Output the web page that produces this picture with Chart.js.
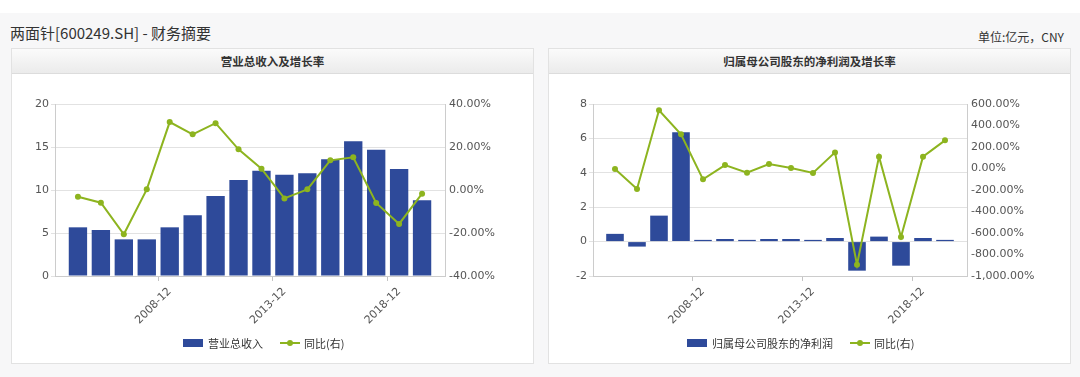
<!DOCTYPE html>
<html>
<head>
<meta charset="utf-8">
<script src="https://cdn.jsdelivr.net/npm/chart.js@4.4.1/dist/chart.umd.min.js"></script>
<style>
  body { margin: 0; width: 1080px; height: 377px; background: #f7f7f8; position: relative; overflow: hidden;
         font-family: "Noto Sans CJK SC", "Noto Sans", sans-serif; color: #333; }
  .topband { position: absolute; left: 0; top: 0; width: 1080px; height: 13px; background: #fff; }
  .title { position: absolute; left: 10px; top: 22px; font-size: 15px; line-height: 22px; }
  .unit { position: absolute; right: 16px; top: 28px; font-size: 12px; line-height: 18px; }
  .panel { position: absolute; top: 48px; width: 521px; height: 314px; background: #fff; border: 1px solid #e2e2e2; }
  .hd { height: 24px; line-height: 24px; border-bottom: 1px solid #dcdcdc; text-align: center;
        font-size: 11.5px; font-weight: bold; background: linear-gradient(#fbfbfb, #ebebeb); }
  canvas { display: block; }
  .legend { position: absolute; top: 286px; height: 16px; display: flex; align-items: center; font-size: 11px; white-space: nowrap; }
  .box { width: 20px; height: 8px; background: #2e4a9a; margin-right: 5px; }
  .ln { width: 20px; height: 2px; background: #8db41f; position: relative; margin: 0 4px 0 17px; }
  .ln::after { content: ''; position: absolute; left: 7px; top: -2px; width: 6px; height: 6px; border-radius: 50%; background: #8db41f; }
</style>
</head>
<body>
<div class="topband"></div>
<div class="title">两面针[600249.SH] - 财务摘要</div>
<div class="unit">单位:亿元，CNY</div>

<div class="panel" style="left:11px">
  <div class="hd">营业总收入及增长率</div>
  <canvas id="revChart" width="521" height="289"></canvas>
  <div class="legend" style="left:171px"><span class="box"></span>营业总收入<span class="ln"></span>同比(右)</div>
</div>
<div class="panel" style="left:548px">
  <div class="hd">归属母公司股东的净利润及增长率</div>
  <canvas id="profitChart" width="521" height="289"></canvas>
  <div class="legend" style="left:138px"><span class="box"></span>归属母公司股东的净利润<span class="ln"></span>同比(右)</div>
</div>

<script>
  // categories (2004-12 .. 2019-12), only every 5th year gets a label
  const years = ['2004-12', '2005-12', '2006-12', '2007-12', '2008-12', '2009-12', '2010-12', '2011-12',
                 '2012-12', '2013-12', '2014-12', '2015-12', '2016-12', '2017-12', '2018-12', '2019-12'];
  const tickYears = ['2008-12', '2013-12', '2018-12'];

  // 营业总收入 (亿元) and 同比 (%)
  const revenue = [5.66, 5.35, 4.26, 4.26, 5.66, 7.05, 9.30, 11.16, 12.25, 11.78, 11.94, 13.57, 15.66, 14.69, 12.44, 8.80];
  const revenueYoY = [-3.1, -5.9, -20.6, 0.3, 31.6, 25.9, 31.1, 18.9, 9.9, -3.9, 0.3, 13.8, 15.2, -6.0, -15.8, -1.7];

  // 归属母公司股东的净利润 (亿元) and 同比 (%)
  const netProfit = [0.45, -0.29, 1.51, 6.36, 0.10, 0.15, 0.10, 0.15, 0.15, 0.10, 0.21, -1.69, 0.29, -1.40, 0.21, 0.10];
  const netProfitYoY = [-5, -191, 541, 318, -101, 32, -39, 42, 5, -42, 150, -895, 110, -637, 110, 262];

  const BAR_BLUE = '#2e4a9a';
  const LINE_GREEN = '#8db41f';
  const TICK_FONT = { family: 'DejaVu Sans', size: 11 };

  // one empty slot each side, like the original x axis
  const labels = [' '].concat(years, ['  ']);
  const pad = arr => [null].concat(arr, [null]);

  function makeChart(id, bars, barLabel, yoy, cfg) {
    const ctx = document.getElementById(id).getContext('2d');
    return new Chart(ctx, {
      type: 'bar',
      data: {
        labels: labels,
        datasets: [
          {
            type: 'line',
            label: '同比(右)',
            data: pad(yoy),
            yAxisID: 'y1',
            borderColor: LINE_GREEN,
            backgroundColor: LINE_GREEN,
            borderWidth: 2,
            pointRadius: 3,
            pointBorderWidth: 0,
            order: 1
          },
          {
            label: barLabel,
            data: pad(bars),
            yAxisID: 'y',
            backgroundColor: BAR_BLUE,
            barPercentage: 0.8,
            categoryPercentage: 1,
            order: 2
          }
        ]
      },
      options: {
        responsive: false,
        animation: false,
        devicePixelRatio: 1,
        layout: { padding: { top: 30, left: 0, right: 0, bottom: 0 } },
        plugins: { legend: { display: false }, tooltip: { enabled: false } },
        scales: {
          x: {
            offset: false,
            afterFit: s => { s.height = 87; },
            border: { color: '#cccccc' },
            grid: {
              drawOnChartArea: false,
              tickLength: 5,
              color: c => tickYears.includes(labels[c.index]) ? '#c4c4c4' : 'rgba(0,0,0,0)'
            },
            ticks: {
              autoSkip: false,
              minRotation: 45,
              maxRotation: 45,
              padding: 4,
              color: '#555',
              font: TICK_FONT,
              callback: function (value) {
                const lab = this.getLabelForValue(value);
                return tickYears.includes(lab) ? lab : '';
              }
            }
          },
          y: {
            position: 'left',
            min: cfg.yMin, max: cfg.yMax,
            afterFit: s => { s.width = cfg.yWidth; },
            border: { color: '#cccccc' },
            grid: { color: '#e2e2e2', tickLength: 4 },
            ticks: { stepSize: cfg.yStep, padding: 2, color: '#555', font: TICK_FONT }
          },
          y1: {
            position: 'right',
            min: cfg.y1Min, max: cfg.y1Max,
            afterFit: s => { s.width = cfg.y1Width; },
            border: { color: '#cccccc' },
            grid: { drawOnChartArea: false, drawTicks: false },
            ticks: {
              stepSize: cfg.y1Step,
              padding: 4,
              color: '#555',
              font: TICK_FONT,
              callback: v => v.toLocaleString('en-US', { minimumFractionDigits: 2, maximumFractionDigits: 2 }) + '%'
            }
          }
        }
      }
    });
  }

  makeChart('revChart', revenue, '营业总收入', revenueYoY, {
    yMin: 0, yMax: 20, yStep: 5, yWidth: 43,
    y1Min: -40, y1Max: 40, y1Step: 20, y1Width: 88
  });

  makeChart('profitChart', netProfit, '归属母公司股东的净利润', netProfitYoY, {
    yMin: -2, yMax: 8, yStep: 2, yWidth: 44,
    y1Min: -1000, y1Max: 600, y1Step: 200, y1Width: 103
  });
</script>
</body>
</html>
